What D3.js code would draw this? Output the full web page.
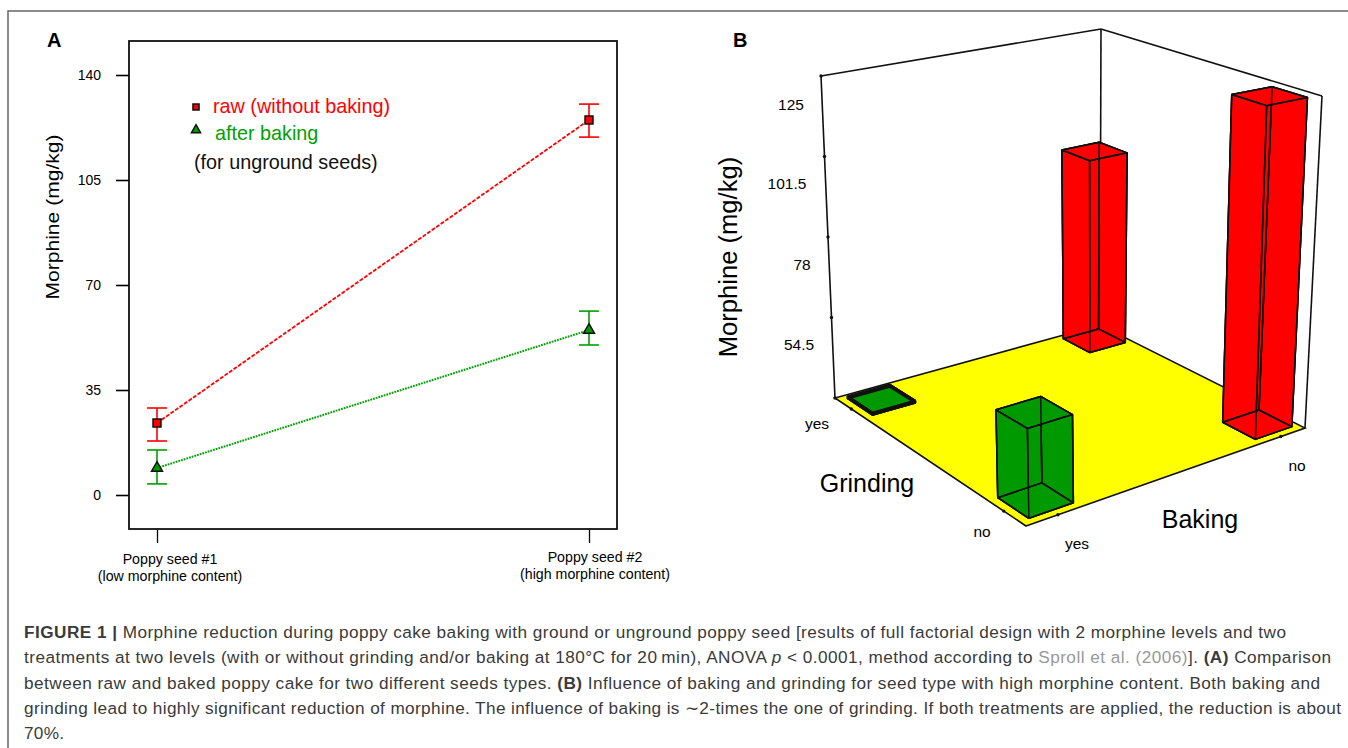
<!DOCTYPE html>
<html>
<head>
<meta charset="utf-8">
<script src="https://cdn.jsdelivr.net/npm/d3@7"></script>
<style>
html, body { margin: 0; padding: 0; background: #fff; overflow: hidden; }
svg { display: block; }
text { font-family: "Liberation Sans", Arial, sans-serif; }
</style>
</head>
<body>
<div id="chart-area"></div>
<script>
// panel A data
var seedNames = ["Poppy seed #1", "Poppy seed #2"];
var seedNotes = ["(low morphine content)", "(high morphine content)"];
var rawMean = [24, 125];
var rawLow = [18, 119.3];
var rawHigh = [29, 130.3];
var bakedMean = [9, 55];
var bakedLow = [3.7, 50];
var bakedHigh = [15, 61.3];
var morphineTicks = [0, 35, 70, 105, 140];

// panel B data
var barBaking = ["no", "yes", "yes", "no"];
var barGrinding = ["yes", "yes", "no", "no"];
var barMorphine = [90, 31.5, 54, 124.3];
var barColors = ["#ff0000", "#009900", "#009900", "#ff0000"];
var wallTicks = [31, 54.5, 78, 101.5, 125];
var wallLabels = [54.5, 78, 101.5, 125];

var captionLines = [
	{ end: 1286, parts: [["FIGURE 1 | ", "b"], ["Morphine reduction during poppy cake baking with ground or unground poppy seed [results of full factorial design with 2 morphine levels and two", ""]] },
	{ end: 1331, parts: [["treatments at two levels (with or without grinding and/or baking at 180\u00B0C for 20\u2009min), ANOVA ", ""], ["p", "i"], [" < 0.0001, method according to ", ""], ["Sproll et al. (2006)", "g"], ["]. ", ""], ["(A)", "b"], [" Comparison", ""]] },
	{ end: 1320, parts: [["between raw and baked poppy cake for two different seeds types. ", ""], ["(B)", "b"], [" Influence of baking and grinding for seed type with high morphine content. Both baking and", ""]] },
	{ end: 1341, parts: [["grinding lead to highly significant reduction of morphine. The influence of baking is \u223C2-times the one of grinding. If both treatments are applied, the reduction is about", ""]] },
	{ end: 64, parts: [["70%.", ""]] }
];

var svg = d3.select("#chart-area").append("svg")
	.attr("width", 1348)
	.attr("height", 748);

// outer figure frame, open at right and bottom
svg.append("path")
	.attr("d", "M8,748V11H1348")
	.attr("fill", "none")
	.attr("stroke", "#666")
	.attr("stroke-width", 1.5);

// ---------- panel A ----------
var y = d3.scaleLinear().domain([0, 140]).range([495, 75]);
var x = d3.scalePoint().domain(seedNames).range([157, 589]);

var yAxis = d3.axisLeft(y).tickValues(morphineTicks).tickSize(13).tickPadding(15);
var gy = svg.append("g").attr("transform", "translate(129,0)").call(yAxis);
gy.select(".domain").remove();
gy.selectAll("line").attr("stroke-width", 1.6);
gy.selectAll("text").attr("font-size", 14).attr("font-family", "Liberation Sans");

var xAxis = d3.axisBottom(x).tickSize(14).tickFormat("");
var gx = svg.append("g").attr("transform", "translate(0,529)").call(xAxis);
gx.select(".domain").remove();
gx.selectAll("line").attr("stroke-width", 1.3);

svg.append("rect")
	.attr("x", 129).attr("y", 41)
	.attr("width", 488).attr("height", 488)
	.attr("fill", "none")
	.attr("stroke", "#111")
	.attr("stroke-width", 1.8);

var seedLabelX = [170, 595];
var seedLabelY = [564, 562];
seedNames.forEach((name, i) => {
	svg.append("text").attr("x", seedLabelX[i]).attr("y", seedLabelY[i])
		.attr("text-anchor", "middle").attr("font-size", 14.2).text(name);
	svg.append("text").attr("x", seedLabelX[i]).attr("y", seedLabelY[i] + 17)
		.attr("text-anchor", "middle").attr("font-size", 14.2).text(seedNotes[i]);
});

svg.append("text")
	.attr("transform", "translate(59,217) rotate(-90)")
	.attr("text-anchor", "middle")
	.attr("font-size", 18)
	.attr("textLength", 165)
	.attr("lengthAdjust", "spacingAndGlyphs")
	.text("Morphine (mg/kg)");

var line = d3.line().x((d, i) => x(seedNames[i])).y(d => y(d));

function drawErrors(low, high, color) {
	seedNames.forEach((name, i) => {
		var cx = x(name);
		var g = svg.append("g").attr("stroke", color).attr("stroke-width", 1.6);
		g.append("line").attr("x1", cx).attr("x2", cx).attr("y1", y(low[i])).attr("y2", y(high[i]));
		g.append("line").attr("x1", cx - 10).attr("x2", cx + 10).attr("y1", y(low[i])).attr("y2", y(low[i]));
		g.append("line").attr("x1", cx - 10).attr("x2", cx + 10).attr("y1", y(high[i])).attr("y2", y(high[i]));
	});
}

drawErrors(rawLow, rawHigh, "#ff0000");
drawErrors(bakedLow, bakedHigh, "#00a000");

svg.append("path").attr("d", line(rawMean))
	.attr("fill", "none").attr("stroke", "#ff0000")
	.attr("stroke-width", 1.8).attr("stroke-dasharray", "4,1.5");
svg.append("path").attr("d", line(bakedMean))
	.attr("fill", "none").attr("stroke", "#00a000")
	.attr("stroke-width", 2).attr("stroke-dasharray", "1.8,1");

var square = d3.symbol().type(d3.symbolSquare);
var triangle = d3.symbol().type(d3.symbolTriangle);

svg.selectAll(".raw-pt").data(rawMean).enter().append("path")
	.attr("class", "raw-pt")
	.attr("d", square.size(64)())
	.attr("transform", (d, i) => "translate(" + x(seedNames[i]) + "," + y(d) + ")")
	.attr("fill", "#ff0000").attr("stroke", "#111").attr("stroke-width", 1.5);

svg.selectAll(".baked-pt").data(bakedMean).enter().append("path")
	.attr("class", "baked-pt")
	.attr("d", triangle.size(52)())
	.attr("transform", (d, i) => "translate(" + x(seedNames[i]) + "," + y(d) + ")")
	.attr("fill", "#009900").attr("stroke", "#111").attr("stroke-width", 1.5);

// legend
svg.append("path").attr("d", square.size(36)()).attr("transform", "translate(196,107)")
	.attr("fill", "#ff0000").attr("stroke", "#111").attr("stroke-width", 1.6);
svg.append("path").attr("d", triangle.size(36)()).attr("transform", "translate(196,130)")
	.attr("fill", "#009900").attr("stroke", "#111").attr("stroke-width", 1.5);
svg.append("text").attr("x", 213).attr("y", 113).attr("font-size", 19.8).attr("fill", "#ff0000").text("raw (without baking)");
svg.append("text").attr("x", 215).attr("y", 140).attr("font-size", 19.8).attr("fill", "#00a000").text("after baking");
svg.append("text").attr("x", 194).attr("y", 169).attr("font-size", 19.8).attr("fill", "#111").text("(for unground seeds)");

svg.append("text").attr("x", 47).attr("y", 47).attr("font-size", 20).attr("font-weight", "bold").text("A");
svg.append("text").attr("x", 733).attr("y", 47).attr("font-size", 20).attr("font-weight", "bold").text("B");

// ---------- panel B ----------
// unit square -> screen quad, p = [front, right, back, left]
function quadMap(p) {
	var dx1 = p[1][0] - p[2][0], dx2 = p[3][0] - p[2][0], sx = p[0][0] - p[1][0] + p[2][0] - p[3][0];
	var dy1 = p[1][1] - p[2][1], dy2 = p[3][1] - p[2][1], sy = p[0][1] - p[1][1] + p[2][1] - p[3][1];
	var den = dx1 * dy2 - dx2 * dy1;
	var g = (sx * dy2 - dx2 * sy) / den, h = (dx1 * sy - sx * dy1) / den;
	var a = p[1][0] - p[0][0] + g * p[1][0], b = p[3][0] - p[0][0] + h * p[3][0];
	var d = p[1][1] - p[0][1] + g * p[1][1], e = p[3][1] - p[0][1] + h * p[3][1];
	return (s, t) => {
		var w = g * s + h * t + 1;
		return [(a * s + b * t + p[0][0]) / w, (d * s + e * t + p[0][1]) / w];
	};
}

var floorMap = quadMap([[1026, 526], [1305, 428], [1100, 325], [835, 398]]);
var topMap = quadMap([[1020, 156], [1322, 96], [1101, 29], [821, 76]]);
var z = d3.scaleLinear().domain([31, 125]).range([0, 1]);

function project(s, t, value) {
	var f = floorMap(s, t), c = topMap(s, t), k = z(value);
	return [f[0] + (c[0] - f[0]) * k, f[1] + (c[1] - f[1]) * k];
}

var bakingPos = d3.scalePoint().domain(["yes", "no"]).range([0.1025, 0.9025]);
var grindingPos = d3.scalePoint().domain(["no", "yes"]).range([0.1025, 0.9025]);
var half = 0.0725;
var path3d = d3.line();

function seg(a, b) {
	svg.append("path").attr("d", path3d([a, b]))
		.attr("fill", "none").attr("stroke", "#111").attr("stroke-width", 1.6);
}

// walls
seg(project(0, 1, 125), project(1, 1, 125));
seg(project(1, 1, 125), project(1, 0, 125));
seg(project(0, 1, 31), project(0, 1, 125));
seg(project(1, 1, 31), project(1, 1, 125));
seg(project(1, 0, 31), project(1, 0, 125));

// floor
svg.append("path")
	.attr("d", path3d([project(0, 0, 31), project(1, 0, 31), project(1, 1, 31), project(0, 1, 31)]) + "Z")
	.attr("fill", "#ffff00")
	.attr("stroke", "#111")
	.attr("stroke-width", 1.6);

// axis ticks are small dots in the original
function dot(p) {
	svg.append("circle").attr("cx", p[0]).attr("cy", p[1]).attr("r", 1.7).attr("fill", "#111");
}
wallTicks.forEach(v => dot(project(0, 1, v)));
bakingPos.domain().forEach(b => dot(project(bakingPos(b), 0, 31)));
grindingPos.domain().forEach(g => dot(project(0, grindingPos(g), 31)));

barMorphine.forEach((value, i) => {
	var s = bakingPos(barBaking[i]), t = grindingPos(barGrinding[i]);
	var corners = [[s - half, t - half], [s + half, t - half], [s + half, t + half], [s - half, t + half]];
	var low = corners.map(c => project(c[0], c[1], 31));
	var high = corners.map(c => project(c[0], c[1], value));
	var flat = value < 33;
	var g = svg.append("g");
	var faces = [[0, 1], [1, 2], [2, 3], [3, 0]].map(e => [low[e[0]], low[e[1]], high[e[1]], high[e[0]]]);
	faces.push(low, high);
	g.selectAll("path").data(faces).enter().append("path")
		.attr("d", d => path3d(d) + "Z")
		.attr("fill", barColors[i])
		.attr("stroke", "#111")
		.attr("stroke-width", flat ? 2.4 : 1.5)
		.attr("stroke-linejoin", "round");
	// the back and bottom edges show through the faces
	var wire = low.map((p, j) => [p, high[j]]);
	[0, 1, 2, 3].forEach(j => {
		wire.push([low[j], low[(j + 1) % 4]]);
		wire.push([high[j], high[(j + 1) % 4]]);
	});
	g.selectAll(".wire").data(wire).enter().append("path")
		.attr("class", "wire")
		.attr("d", d => path3d(d))
		.attr("fill", "none")
		.attr("stroke", "#111")
		.attr("stroke-width", flat ? 2.4 : 1.5);
});

var wallLabelX = [799, 802, 787, 791];
var wallLabelY = [350, 270, 189, 110];
wallLabels.forEach((v, i) => {
	svg.append("text").attr("x", wallLabelX[i]).attr("y", wallLabelY[i])
		.attr("text-anchor", "middle").attr("font-size", 15.5).text(v);
});

svg.append("text")
	.attr("transform", "translate(737,257) rotate(-90)")
	.attr("text-anchor", "middle")
	.attr("font-size", 25.6)
	.text("Morphine (mg/kg)");

var floorLabels = [
	["yes", 817, 429, 15.5], ["no", 982, 537, 15.5], ["yes", 1077, 549, 15.5], ["no", 1297, 471, 15.5],
	["Grinding", 867, 492, 25], ["Baking", 1200, 528, 25]
];
floorLabels.forEach(d => {
	svg.append("text").attr("x", d[1]).attr("y", d[2])
		.attr("text-anchor", "middle").attr("font-size", d[3]).text(d[0]);
});

// ---------- caption ----------
var captionBase = [638, 663, 689, 714, 739];
captionLines.forEach((l, i) => {
	var t = svg.append("text").attr("x", 24).attr("y", captionBase[i])
		.attr("font-size", 17.2).attr("fill", "#3a3a3a")
		.attr("textLength", l.end - 24).attr("lengthAdjust", "spacing")
		.attr("xml:space", "preserve").style("white-space", "pre");
	l.parts.forEach(p => {
		t.append("tspan").text(p[0])
			.attr("font-weight", p[1] == "b" ? "bold" : null)
			.attr("font-style", p[1] == "i" ? "italic" : null)
			.attr("fill", p[1] == "g" ? "#999" : null);
	});
});
</script>
</body>
</html>
